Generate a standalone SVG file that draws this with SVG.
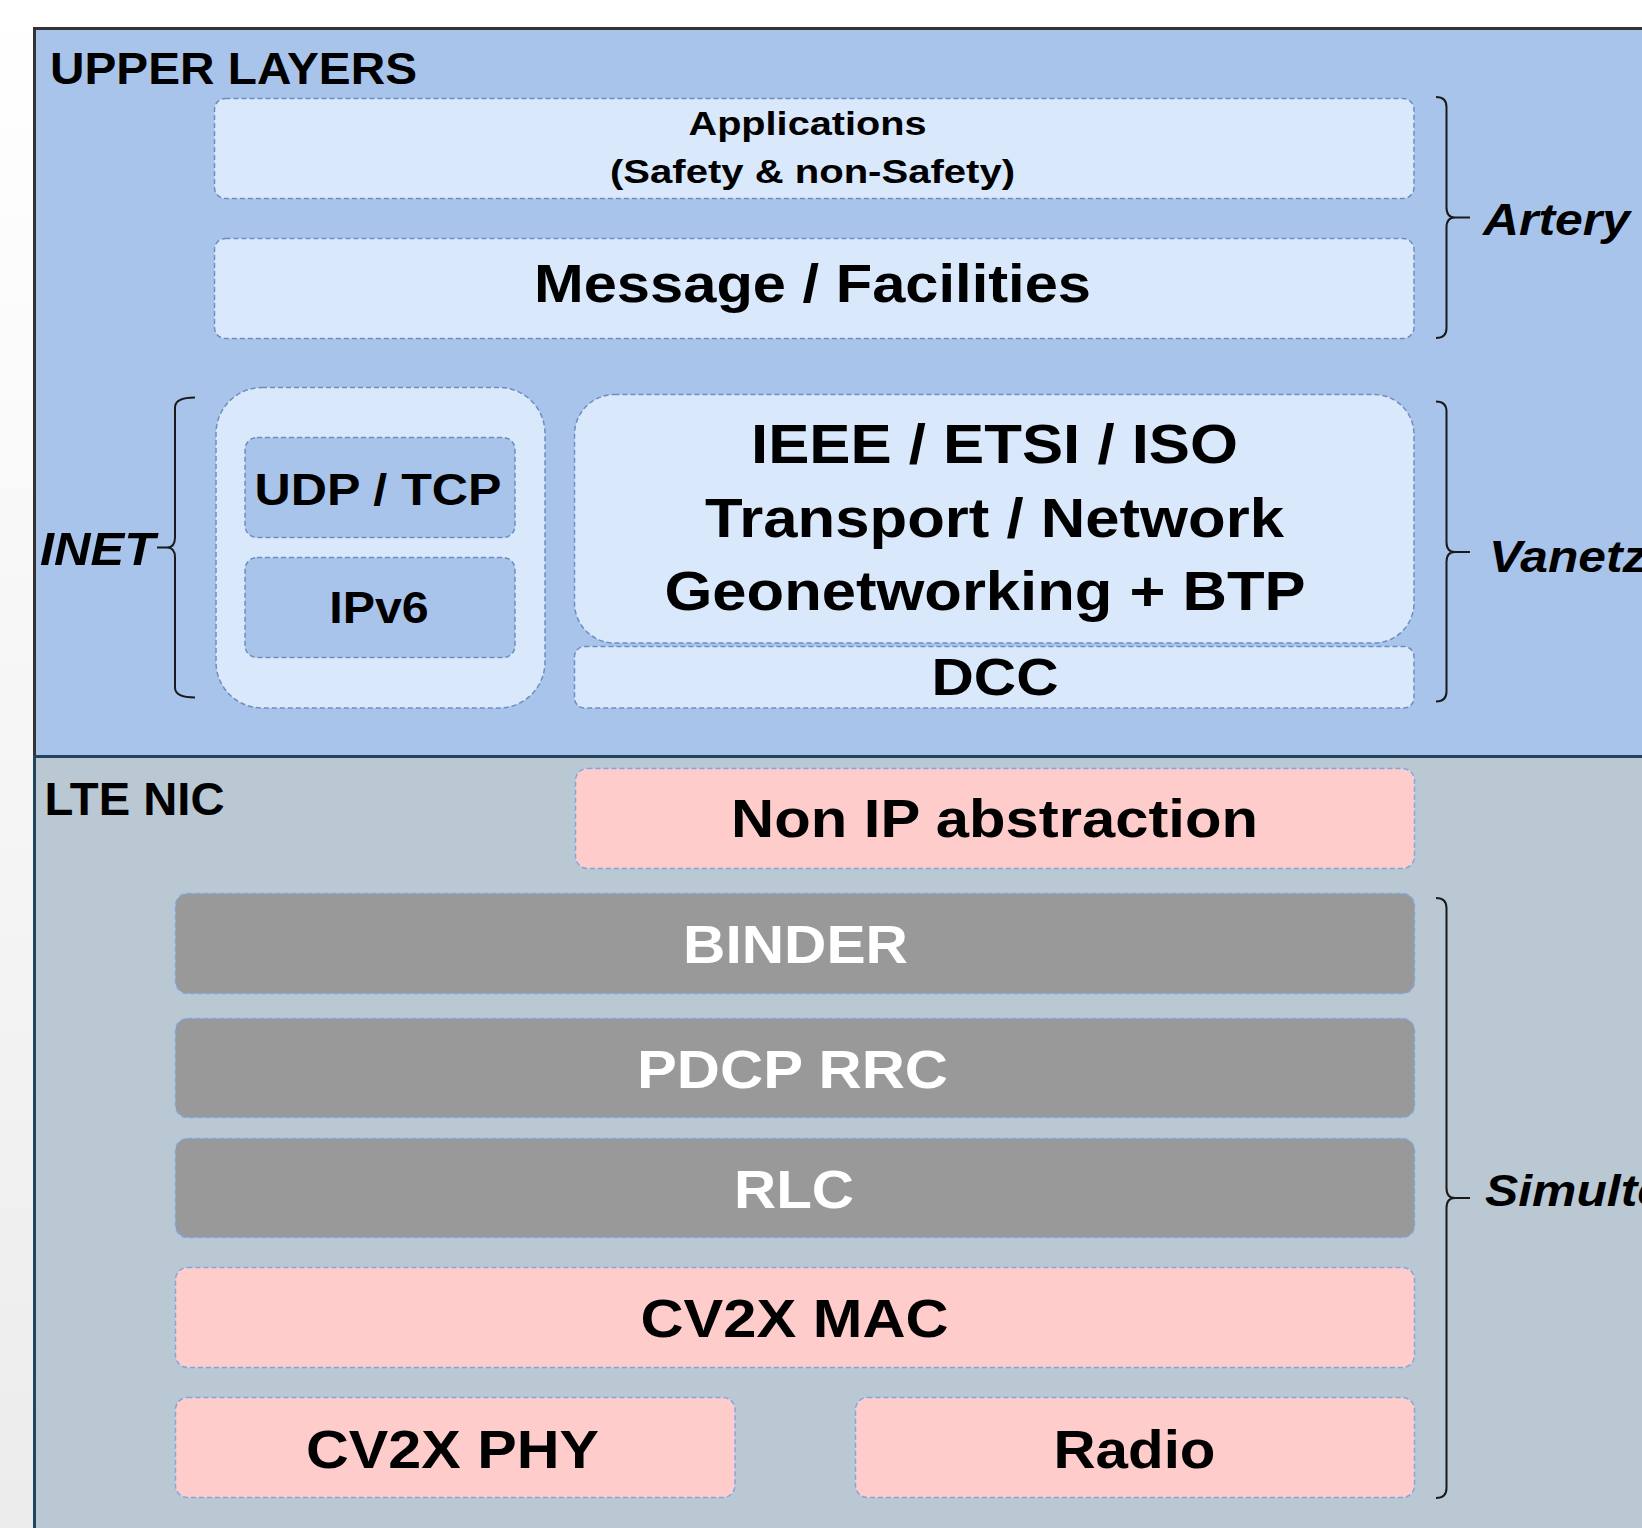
<svg xmlns="http://www.w3.org/2000/svg" width="1642" height="1528" viewBox="0 0 1642 1528">
  <defs>
    <linearGradient id="pageBg" x1="0" y1="0" x2="0" y2="1">
      <stop offset="0" stop-color="#ffffff"/>
      <stop offset="1" stop-color="#ececec"/>
    </linearGradient>
    <style>
      text { font-family: "Liberation Sans", Arial, sans-serif; font-weight: bold; fill: #000000; }
      .c { text-anchor: middle; }
      .it { font-style: italic; }
      .w { fill: #ffffff; }
      .box { stroke-width: 1.5; stroke-dasharray: 5 3; }
      .lightU { fill: #dae8fc; stroke: #6c8ebf; }
      .midU { fill: #a9c4eb; stroke: #6c8ebf; }
      .gray { fill: #999999; stroke: #7ea6e0; }
      .pink { fill: #ffcccc; stroke: #7ea6e0; }
      .brace { fill: none; stroke: #1a1a1a; stroke-width: 2; }
    </style>
  </defs>

  <rect x="0" y="0" width="1642" height="1528" fill="url(#pageBg)"/>

  <g id="upper-layers">
    <rect x="34.5" y="28.5" width="1640" height="728" fill="#a9c4eb" stroke="#333333" stroke-width="3"/>
    <text x="50" y="83.5" font-size="44" textLength="367" lengthAdjust="spacingAndGlyphs">UPPER LAYERS</text>
  </g>

  <g id="lte-nic">
    <rect x="34.5" y="756.5" width="1640" height="800" fill="#bac8d3" stroke="#23445d" stroke-width="3"/>
    <text x="44.5" y="815" font-size="46" textLength="180" lengthAdjust="spacingAndGlyphs">LTE NIC</text>
  </g>

  <g id="applications">
    <rect class="box lightU" x="214.5" y="98.5" width="1199.5" height="100" rx="11"/>
    <text class="c" x="807.5" y="135" font-size="34" textLength="238" lengthAdjust="spacingAndGlyphs">Applications</text>
    <text class="c" x="812.5" y="183" font-size="34" textLength="405" lengthAdjust="spacingAndGlyphs">(Safety &amp; non-Safety)</text>
  </g>

  <g id="message-facilities">
    <rect class="box lightU" x="214.5" y="238.5" width="1199.5" height="100" rx="11"/>
    <text class="c" x="812.5" y="301.5" font-size="54" textLength="557" lengthAdjust="spacingAndGlyphs">Message / Facilities</text>
  </g>

  <g id="inet-stack">
    <rect class="box lightU" x="216" y="387.5" width="329" height="320.5" rx="46"/>
  </g>

  <g id="udp-tcp">
    <rect class="box midU" x="245" y="437.5" width="270" height="100" rx="12"/>
    <text class="c" x="378" y="505" font-size="45" textLength="247" lengthAdjust="spacingAndGlyphs">UDP / TCP</text>
  </g>

  <g id="ipv6">
    <rect class="box midU" x="245" y="557.5" width="270" height="100" rx="12"/>
    <text class="c" x="379" y="623" font-size="45" textLength="99.5" lengthAdjust="spacingAndGlyphs">IPv6</text>
  </g>

  <g id="ieee-etsi-iso">
    <rect class="box lightU" x="574.5" y="394.5" width="839.5" height="248.5" rx="40"/>
    <text class="c" x="994.5" y="463.3" font-size="56" textLength="487" lengthAdjust="spacingAndGlyphs">IEEE / ETSI / ISO</text>
    <text class="c" x="994.5" y="536.7" font-size="56" textLength="579" lengthAdjust="spacingAndGlyphs">Transport / Network</text>
    <text class="c" x="985" y="610" font-size="56" textLength="641" lengthAdjust="spacingAndGlyphs">Geonetworking + BTP</text>
  </g>

  <g id="dcc">
    <rect class="box lightU" x="574.5" y="646.5" width="839.5" height="61.5" rx="10"/>
    <text class="c" x="995" y="695" font-size="52" textLength="127" lengthAdjust="spacingAndGlyphs">DCC</text>
  </g>

  <g id="non-ip-abstraction">
    <rect class="box pink" x="575.5" y="768.5" width="839" height="100" rx="12"/>
    <text class="c" x="994.5" y="836.7" font-size="54" textLength="527" lengthAdjust="spacingAndGlyphs">Non IP abstraction</text>
  </g>

  <g id="binder">
    <rect class="box gray" x="175.5" y="893.5" width="1239" height="100" rx="12"/>
    <text class="c w" x="795.5" y="963.3" font-size="54" textLength="225" lengthAdjust="spacingAndGlyphs">BINDER</text>
  </g>

  <g id="pdcp-rrc">
    <rect class="box gray" x="175.5" y="1018.5" width="1239" height="99" rx="12"/>
    <text class="c w" x="792.5" y="1088" font-size="54" textLength="311" lengthAdjust="spacingAndGlyphs">PDCP RRC</text>
  </g>

  <g id="rlc">
    <rect class="box gray" x="175.5" y="1138.5" width="1239" height="99" rx="12"/>
    <text class="c w" x="794" y="1208" font-size="54" textLength="120" lengthAdjust="spacingAndGlyphs">RLC</text>
  </g>

  <g id="cv2x-mac">
    <rect class="box pink" x="175.5" y="1267.5" width="1239" height="100" rx="12"/>
    <text class="c" x="794.5" y="1337" font-size="54" textLength="308" lengthAdjust="spacingAndGlyphs">CV2X MAC</text>
  </g>

  <g id="cv2x-phy">
    <rect class="box pink" x="175.5" y="1397.5" width="559.5" height="100" rx="12"/>
    <text class="c" x="452.5" y="1467.5" font-size="54" textLength="293" lengthAdjust="spacingAndGlyphs">CV2X PHY</text>
  </g>

  <g id="radio">
    <rect class="box pink" x="855.5" y="1397.5" width="559" height="100" rx="12"/>
    <text class="c" x="1134.5" y="1467.5" font-size="54" textLength="162" lengthAdjust="spacingAndGlyphs">Radio</text>
  </g>

  <g id="brackets">
    <g id="artery-bracket">
      <path class="brace" d="M1436,97 Q1446.5,97 1446.5,107 L1446.5,207.5 Q1446.5,217.5 1455,217.5 L1470,217.5 M1455,217.5 Q1446.5,217.5 1446.5,227.5 L1446.5,328 Q1446.5,338 1436,338"/>
      <text class="it" x="1483" y="235" font-size="44" textLength="147" lengthAdjust="spacingAndGlyphs">Artery</text>
    </g>
    <g id="vanetza-bracket">
      <path class="brace" d="M1436,401.5 Q1446.5,401.5 1446.5,411.5 L1446.5,542 Q1446.5,552 1455,552 L1470,552 M1455,552 Q1446.5,552 1446.5,562 L1446.5,691.5 Q1446.5,701.5 1436,701.5"/>
      <text class="it" x="1489" y="572" font-size="44" textLength="186" lengthAdjust="spacingAndGlyphs">Vanetza</text>
    </g>
    <g id="simulte-bracket">
      <path class="brace" d="M1436,898 Q1446.5,898 1446.5,908 L1446.5,1188 Q1446.5,1198 1455,1198 L1470,1198 M1455,1198 Q1446.5,1198 1446.5,1208 L1446.5,1488 Q1446.5,1498 1436,1498"/>
      <text class="it" x="1485" y="1206" font-size="44" textLength="180" lengthAdjust="spacingAndGlyphs">Simulte</text>
    </g>
    <g id="inet-bracket">
      <path class="brace" d="M195,397.5 Q175,397.5 175,407.5 L175,537.5 Q175,547.5 167,547.5 L157,547.5 M167,547.5 Q175,547.5 175,557.5 L175,687.5 Q175,697.5 195,697.5"/>
      <text class="it" x="40" y="565" font-size="46" textLength="115" lengthAdjust="spacingAndGlyphs">INET</text>
    </g>
  </g>
</svg>
